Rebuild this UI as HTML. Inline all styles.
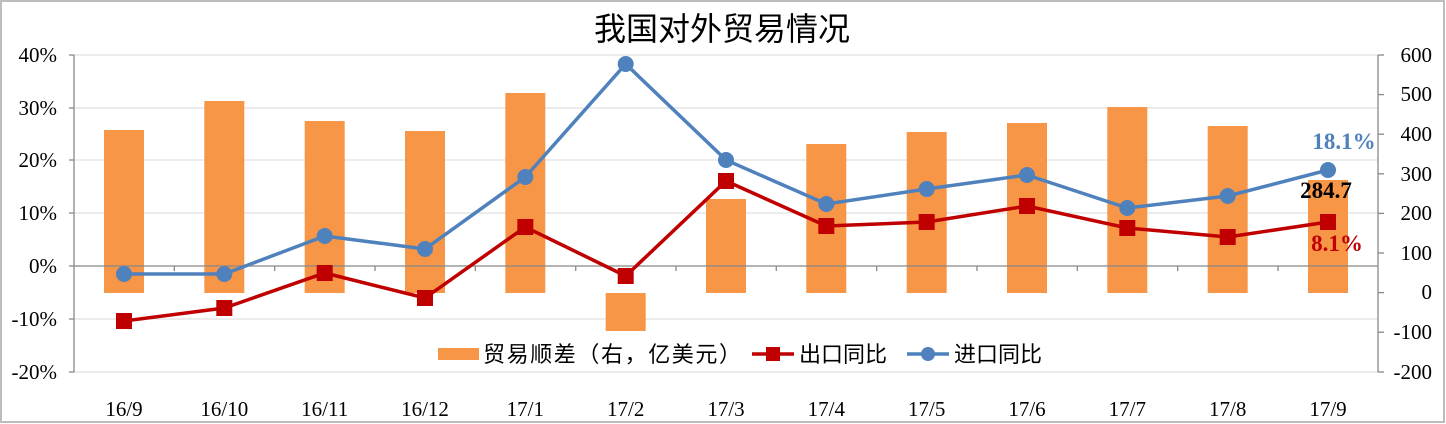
<!DOCTYPE html>
<html><head><meta charset="utf-8"><style>
body{margin:0;background:#fff}
svg{display:block}
text{font-family:"Liberation Serif","Noto Serif CJK SC",serif}
.cj{font-family:"Liberation Sans","Noto Sans CJK SC",sans-serif}
</style></head><body>
<svg width="1446" height="424" viewBox="0 0 1446 424" xmlns="http://www.w3.org/2000/svg">
<rect x="1" y="1" width="1443" height="421" fill="#fff" stroke="#bdbdbd" stroke-width="2"/>
<text x="722" y="40" font-size="32" text-anchor="middle" class="cj">我国对外贸易情况</text>
<g stroke="#d9d9d9" stroke-width="1">
<line x1="74" y1="55" x2="1378" y2="55"/><line x1="74" y1="108" x2="1378" y2="108"/>
<line x1="74" y1="160" x2="1378" y2="160"/><line x1="74" y1="213" x2="1378" y2="213"/>
<line x1="74" y1="319" x2="1378" y2="319"/><line x1="74" y1="372" x2="1378" y2="372"/>
</g>
<g fill="#f79646">
<rect x="104" y="130" width="40" height="163"/>
<rect x="204.3" y="101" width="40" height="192"/>
<rect x="304.7" y="121" width="40" height="172"/>
<rect x="405" y="131" width="40" height="162"/>
<rect x="505.3" y="93" width="40" height="200"/>
<rect x="605.7" y="293" width="40" height="38"/>
<rect x="706" y="199" width="40" height="94"/>
<rect x="806.3" y="144" width="40" height="149"/>
<rect x="906.7" y="132" width="40" height="161"/>
<rect x="1007" y="123" width="40" height="170"/>
<rect x="1107.3" y="107" width="40" height="186"/>
<rect x="1207.7" y="126" width="40" height="167"/>
<rect x="1308" y="180" width="40" height="113"/>
</g>
<g stroke="#888" stroke-width="1.3">
<line x1="74" y1="266" x2="1378" y2="266"/>
<line x1="74" y1="55" x2="74" y2="372"/><line x1="1378" y1="55" x2="1378" y2="372"/>
<line x1="69" y1="55" x2="74" y2="55"/><line x1="69" y1="108" x2="74" y2="108"/><line x1="69" y1="160" x2="74" y2="160"/><line x1="69" y1="213" x2="74" y2="213"/><line x1="69" y1="266" x2="74" y2="266"/><line x1="69" y1="319" x2="74" y2="319"/><line x1="69" y1="372" x2="74" y2="372"/>
<line x1="1378" y1="55" x2="1384" y2="55"/><line x1="1378" y1="94.6" x2="1384" y2="94.6"/><line x1="1378" y1="134.2" x2="1384" y2="134.2"/><line x1="1378" y1="173.8" x2="1384" y2="173.8"/><line x1="1378" y1="213.4" x2="1384" y2="213.4"/><line x1="1378" y1="253" x2="1384" y2="253"/><line x1="1378" y1="292.6" x2="1384" y2="292.6"/><line x1="1378" y1="332.2" x2="1384" y2="332.2"/><line x1="1378" y1="372" x2="1384" y2="372"/>
<line x1="174.3" y1="266" x2="174.3" y2="271"/><line x1="274.7" y1="266" x2="274.7" y2="271"/><line x1="375" y1="266" x2="375" y2="271"/><line x1="475.3" y1="266" x2="475.3" y2="271"/><line x1="575.7" y1="266" x2="575.7" y2="271"/><line x1="676" y1="266" x2="676" y2="271"/><line x1="776.3" y1="266" x2="776.3" y2="271"/><line x1="876.7" y1="266" x2="876.7" y2="271"/><line x1="977" y1="266" x2="977" y2="271"/><line x1="1077.3" y1="266" x2="1077.3" y2="271"/><line x1="1177.7" y1="266" x2="1177.7" y2="271"/><line x1="1278" y1="266" x2="1278" y2="271"/>
</g>
<polyline fill="none" stroke="#c00000" stroke-width="3.5" points="124,321 224.3,308 324.7,273 425,298 525.3,227 625.7,276 726,181 826.3,226 926.7,222 1027,206 1127.3,228 1227.7,237 1328,222"/>
<g fill="#c00000">
<rect x="116" y="313" width="16" height="16"/><rect x="216.3" y="300" width="16" height="16"/><rect x="316.7" y="265" width="16" height="16"/><rect x="417" y="290" width="16" height="16"/><rect x="517.3" y="219" width="16" height="16"/><rect x="617.7" y="268" width="16" height="16"/><rect x="718" y="173" width="16" height="16"/><rect x="818.3" y="218" width="16" height="16"/><rect x="918.7" y="214" width="16" height="16"/><rect x="1019" y="198" width="16" height="16"/><rect x="1119.3" y="220" width="16" height="16"/><rect x="1219.7" y="229" width="16" height="16"/><rect x="1320" y="214" width="16" height="16"/>
</g>
<polyline fill="none" stroke="#4f81bd" stroke-width="3.5" points="124,274 224.3,274 324.7,236 425,249 525.3,177 625.7,64 726,160 826.3,204 926.7,189 1027,175 1127.3,208 1227.7,196 1328,170"/>
<g fill="#4f81bd">
<circle cx="124" cy="274" r="8"/><circle cx="224.3" cy="274" r="8"/><circle cx="324.7" cy="236" r="8"/><circle cx="425" cy="249" r="8"/><circle cx="525.3" cy="177" r="8"/><circle cx="625.7" cy="64" r="8"/><circle cx="726" cy="160" r="8"/><circle cx="826.3" cy="204" r="8"/><circle cx="926.7" cy="189" r="8"/><circle cx="1027" cy="175" r="8"/><circle cx="1127.3" cy="208" r="8"/><circle cx="1227.7" cy="196" r="8"/><circle cx="1328" cy="170" r="8"/>
</g>
<text x="1344" y="149" font-size="23" font-weight="bold" fill="#4f81bd" text-anchor="middle">18.1%</text>
<text x="1326" y="198" font-size="23" font-weight="bold" fill="#000" text-anchor="middle">284.7</text>
<text x="1337" y="251" font-size="23" font-weight="bold" fill="#c00000" text-anchor="middle">8.1%</text>
<g font-size="21" text-anchor="end">
<text x="57" y="62">40%</text><text x="57" y="115">30%</text><text x="57" y="167">20%</text><text x="57" y="220">10%</text><text x="57" y="273">0%</text><text x="57" y="326">-10%</text><text x="57" y="379">-20%</text>
</g>
<g font-size="21" text-anchor="end">
<text x="1432" y="62">600</text><text x="1432" y="101">500</text><text x="1432" y="141">400</text><text x="1432" y="181">300</text><text x="1432" y="220">200</text><text x="1432" y="260">100</text><text x="1432" y="299">0</text><text x="1432" y="339">-100</text><text x="1432" y="379">-200</text>
</g>
<g font-size="21" text-anchor="middle">
<text x="124" y="416">16/9</text><text x="224.3" y="416">16/10</text><text x="324.7" y="416">16/11</text><text x="425" y="416">16/12</text><text x="525.3" y="416">17/1</text><text x="625.7" y="416">17/2</text><text x="726" y="416">17/3</text><text x="826.3" y="416">17/4</text><text x="926.7" y="416">17/5</text><text x="1027" y="416">17/6</text><text x="1127.3" y="416">17/7</text><text x="1227.7" y="416">17/8</text><text x="1328" y="416">17/9</text>
</g>
<rect x="438" y="348" width="41" height="12" fill="#f79646"/>
<text x="483" y="362" font-size="22" class="cj" textLength="258">贸易顺差（右，亿美元）</text>
<line x1="752" y1="354" x2="794" y2="354" stroke="#c00000" stroke-width="3.5"/>
<rect x="766" y="347" width="14" height="14" fill="#c00000"/>
<text x="799" y="362" font-size="22" class="cj">出口同比</text>
<line x1="907" y1="354" x2="949" y2="354" stroke="#4f81bd" stroke-width="3.5"/>
<circle cx="928" cy="354" r="7" fill="#4f81bd"/>
<text x="954" y="362" font-size="22" class="cj">进口同比</text>
</svg>
</body></html>
